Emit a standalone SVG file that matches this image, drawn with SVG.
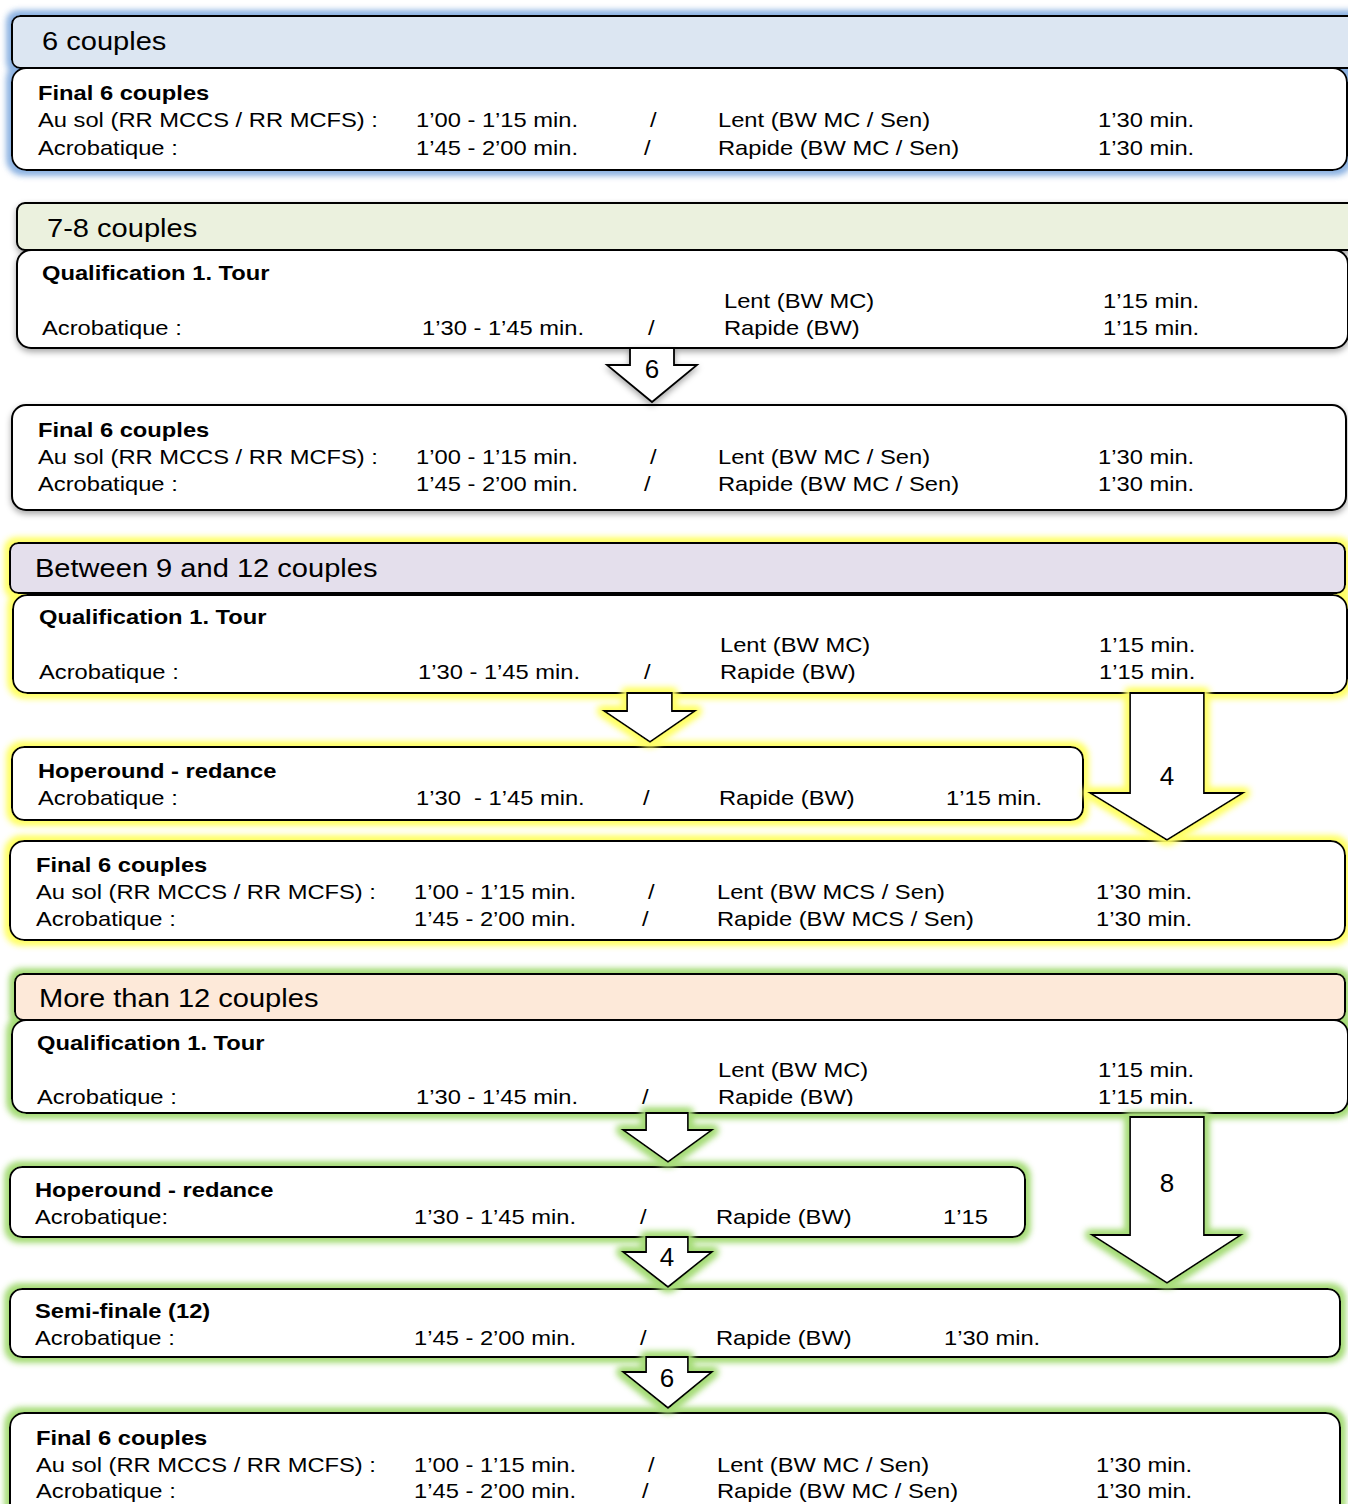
<svg xmlns="http://www.w3.org/2000/svg" width="1348" height="1504" viewBox="0 0 1348 1504">
<style>
text { font-family: "Liberation Sans", Arial, sans-serif; fill: #000; }
.t { font-size: 21px; transform-box: fill-box; transform-origin: 0 0; transform: scaleX(1.13); }
.b { font-weight: bold; }
.h { font-size: 25.5px; transform-box: fill-box; transform-origin: 0 0; transform: scaleX(1.14); }
.n { font-size: 26px; text-anchor: middle; }
.bx { fill: #fff; stroke: #000; stroke-width: 2; }
.ar { fill: #fff; stroke: #000; stroke-width: 1.8; stroke-linejoin: miter; }
.hd { stroke: #000; stroke-width: 2; }
</style>
<defs>
<filter id="gBlue" x="-10%" y="-40%" width="120%" height="180%">
<feMorphology in="SourceAlpha" operator="dilate" radius="3" result="d"/>
<feGaussianBlur in="d" stdDeviation="3.5" result="bl"/>
<feFlood flood-color="#8db3e2"/>
<feComposite in2="bl" operator="in" result="g"/>
<feMerge><feMergeNode in="g"/><feMergeNode in="g"/><feMergeNode in="SourceGraphic"/></feMerge>
</filter>
<filter id="gYel" x="-10%" y="-40%" width="120%" height="180%">
<feMorphology in="SourceAlpha" operator="dilate" radius="3" result="d"/>
<feGaussianBlur in="d" stdDeviation="3.5" result="bl"/>
<feFlood flood-color="#ffff66"/>
<feComposite in2="bl" operator="in" result="g"/>
<feMerge><feMergeNode in="g"/><feMergeNode in="g"/><feMergeNode in="SourceGraphic"/></feMerge>
</filter>
<filter id="gGrn" x="-10%" y="-40%" width="120%" height="180%">
<feMorphology in="SourceAlpha" operator="dilate" radius="3" result="d"/>
<feGaussianBlur in="d" stdDeviation="3.5" result="bl"/>
<feFlood flood-color="#a6dc78"/>
<feComposite in2="bl" operator="in" result="g"/>
<feMerge><feMergeNode in="g"/><feMergeNode in="g"/><feMergeNode in="SourceGraphic"/></feMerge>
</filter>
<filter id="sh" x="-10%" y="-40%" width="120%" height="180%">
<feGaussianBlur in="SourceAlpha" stdDeviation="3" result="bl"/>
<feOffset in="bl" dx="0" dy="3" result="o"/>
<feFlood flood-color="#000" flood-opacity="0.35"/>
<feComposite in2="o" operator="in" result="g"/>
<feMerge><feMergeNode in="g"/><feMergeNode in="SourceGraphic"/></feMerge>
</filter>
<clipPath id="clipQ4"><rect x="0" y="1020" width="1348" height="86"/></clipPath>
</defs>

<!-- Group 1: 6 couples -->
<g id="g1-shapes" filter="url(#gBlue)">
<rect class="hd" x="12" y="16" width="1350" height="52" rx="8" fill="#dce6f2"/>
<rect class="bx" x="12" y="68" width="1335" height="102" rx="14"/>
</g>
<g id="g1-header"><text class="h" x="42" y="50">6 couples</text></g>
<g id="g1-final">
<text class="t b" x="38" y="100">Final 6 couples</text>
<text class="t" x="38" y="127">Au sol (RR MCCS / RR MCFS) :</text>
<text class="t" x="416" y="127">1’00 - 1’15 min.</text>
<text class="t" x="650" y="127">/</text>
<text class="t" x="718" y="127">Lent (BW MC / Sen)</text>
<text class="t" x="1098" y="127">1’30 min.</text>
<text class="t" x="38" y="155">Acrobatique :</text>
<text class="t" x="416" y="155">1’45 - 2’00 min.</text>
<text class="t" x="644" y="155">/</text>
<text class="t" x="718" y="155">Rapide (BW MC / Sen)</text>
<text class="t" x="1098" y="155">1’30 min.</text>
</g>

<!-- Group 2: 7-8 couples -->
<g id="g2-shapes" filter="url(#sh)">
<rect class="hd" x="17" y="203" width="1345" height="47" rx="8" fill="#ebf1de"/>
<rect class="bx" x="17" y="250" width="1331" height="98" rx="14"/>
<rect class="bx" x="12" y="405" width="1334" height="105" rx="14"/>
</g>
<g id="g2-header"><text class="h" x="47" y="237">7-8 couples</text></g>
<g id="g2-qual">
<text class="t b" x="42" y="280">Qualification 1. Tour</text>
<text class="t" x="724" y="308">Lent (BW MC)</text>
<text class="t" x="1103" y="308">1’15 min.</text>
<text class="t" x="42" y="335">Acrobatique :</text>
<text class="t" x="422" y="335">1’30 - 1’45 min.</text>
<text class="t" x="648" y="335">/</text>
<text class="t" x="724" y="335">Rapide (BW)</text>
<text class="t" x="1103" y="335">1’15 min.</text>
</g>
<g id="g2-final">
<text class="t b" x="38" y="437">Final 6 couples</text>
<text class="t" x="38" y="464">Au sol (RR MCCS / RR MCFS) :</text>
<text class="t" x="416" y="464">1’00 - 1’15 min.</text>
<text class="t" x="650" y="464">/</text>
<text class="t" x="718" y="464">Lent (BW MC / Sen)</text>
<text class="t" x="1098" y="464">1’30 min.</text>
<text class="t" x="38" y="491">Acrobatique :</text>
<text class="t" x="416" y="491">1’45 - 2’00 min.</text>
<text class="t" x="644" y="491">/</text>
<text class="t" x="718" y="491">Rapide (BW MC / Sen)</text>
<text class="t" x="1098" y="491">1’30 min.</text>
</g>

<!-- Group 3: Between 9 and 12 couples -->
<g id="g3-shapes" filter="url(#gYel)">
<rect class="hd" x="10" y="543" width="1335" height="50" rx="8" fill="#e4dfec"/>
<rect class="bx" x="13" y="595" width="1334" height="98" rx="14"/>
<rect class="bx" x="12" y="747" width="1071" height="73" rx="12"/>
<rect class="bx" x="10" y="841" width="1335" height="99" rx="14"/>
</g>
<g id="g3-header"><text class="h" x="35" y="577">Between 9 and 12 couples</text></g>
<g id="g3-qual">
<text class="t b" x="39" y="624">Qualification 1. Tour</text>
<text class="t" x="720" y="652">Lent (BW MC)</text>
<text class="t" x="1099" y="652">1’15 min.</text>
<text class="t" x="39" y="679">Acrobatique :</text>
<text class="t" x="418" y="679">1’30 - 1’45 min.</text>
<text class="t" x="644" y="679">/</text>
<text class="t" x="720" y="679">Rapide (BW)</text>
<text class="t" x="1099" y="679">1’15 min.</text>
</g>
<g id="g3-hope">
<text class="t b" x="38" y="778">Hoperound - redance</text>
<text class="t" x="38" y="805">Acrobatique :</text>
<text class="t" x="416" y="805" xml:space="preserve">1’30  - 1’45 min.</text>
<text class="t" x="643" y="805">/</text>
<text class="t" x="719" y="805">Rapide (BW)</text>
<text class="t" x="946" y="805">1’15 min.</text>
</g>
<g id="g3-final">
<text class="t b" x="36" y="872">Final 6 couples</text>
<text class="t" x="36" y="899">Au sol (RR MCCS / RR MCFS) :</text>
<text class="t" x="414" y="899">1’00 - 1’15 min.</text>
<text class="t" x="648" y="899">/</text>
<text class="t" x="717" y="899">Lent (BW MCS / Sen)</text>
<text class="t" x="1096" y="899">1’30 min.</text>
<text class="t" x="36" y="926">Acrobatique :</text>
<text class="t" x="414" y="926">1’45 - 2’00 min.</text>
<text class="t" x="642" y="926">/</text>
<text class="t" x="717" y="926">Rapide (BW MCS / Sen)</text>
<text class="t" x="1096" y="926">1’30 min.</text>
</g>

<!-- Group 4: More than 12 couples -->
<g id="g4-shapes" filter="url(#gGrn)">
<rect class="hd" x="15" y="974" width="1330" height="46" rx="8" fill="#fde9d9"/>
<rect class="bx" x="12" y="1020" width="1336" height="93" rx="14"/>
<rect class="bx" x="10" y="1167" width="1015" height="70" rx="12"/>
<rect class="bx" x="10" y="1289" width="1330" height="68" rx="12"/>
<rect class="bx" x="10" y="1413" width="1330" height="110" rx="14"/>
</g>
<g id="g4-header"><text class="h" x="39" y="1007">More than 12 couples</text></g>
<g id="g4-qual">
<text class="t b" x="37" y="1050">Qualification 1. Tour</text>
<text class="t" x="718" y="1077">Lent (BW MC)</text>
<text class="t" x="1098" y="1077">1’15 min.</text>
<g clip-path="url(#clipQ4)">
<text class="t" x="37" y="1104">Acrobatique :</text>
<text class="t" x="416" y="1104">1’30 - 1’45 min.</text>
<text class="t" x="642" y="1104">/</text>
<text class="t" x="718" y="1104">Rapide (BW)</text>
<text class="t" x="1098" y="1104">1’15 min.</text>
</g>
</g>
<g id="g4-hope">
<text class="t b" x="35" y="1197">Hoperound - redance</text>
<text class="t" x="35" y="1224">Acrobatique:</text>
<text class="t" x="414" y="1224">1’30 - 1’45 min.</text>
<text class="t" x="640" y="1224">/</text>
<text class="t" x="716" y="1224">Rapide (BW)</text>
<text class="t" x="943" y="1224">1’15</text>
</g>
<g id="g4-semi">
<text class="t b" x="35" y="1318">Semi-finale (12)</text>
<text class="t" x="35" y="1345">Acrobatique :</text>
<text class="t" x="414" y="1345">1’45 - 2’00 min.</text>
<text class="t" x="640" y="1345">/</text>
<text class="t" x="716" y="1345">Rapide (BW)</text>
<text class="t" x="944" y="1345">1’30 min.</text>
</g>
<g id="g4-final">
<text class="t b" x="36" y="1445">Final 6 couples</text>
<text class="t" x="36" y="1472">Au sol (RR MCCS / RR MCFS) :</text>
<text class="t" x="414" y="1472">1’00 - 1’15 min.</text>
<text class="t" x="648" y="1472">/</text>
<text class="t" x="717" y="1472">Lent (BW MC / Sen)</text>
<text class="t" x="1096" y="1472">1’30 min.</text>
<text class="t" x="36" y="1498">Acrobatique :</text>
<text class="t" x="414" y="1498">1’45 - 2’00 min.</text>
<text class="t" x="642" y="1498">/</text>
<text class="t" x="717" y="1498">Rapide (BW MC / Sen)</text>
<text class="t" x="1096" y="1498">1’30 min.</text>
</g>

<!-- Connectors -->
<g id="connectors">
<g filter="url(#sh)">
<path class="ar" d="M630,348 L630,365 L607,365 L652,402 L697,365 L674,365 L674,348 Z"/>
</g>
<text class="n" x="652" y="378">6</text>
<g filter="url(#gYel)">
<path class="ar" d="M627,693 L627,711 L604,711 L650,742 L695,711 L672,711 L672,693 Z"/>
<path class="ar" d="M1130,693 L1130,793 L1090,793 L1167,840 L1243,793 L1204,793 L1204,693 Z"/>
</g>
<text class="n" x="1167" y="785">4</text>
<g filter="url(#gGrn)">
<path class="ar" d="M646,1113 L646,1130 L623,1130 L668,1162 L712,1130 L688,1130 L688,1113 Z"/>
<path class="ar" d="M1130,1117 L1130,1235 L1092,1235 L1167,1283 L1241,1235 L1204,1235 L1204,1117 Z"/>
<path class="ar" d="M646,1237 L646,1252 L623,1252 L668,1287 L712,1252 L688,1252 L688,1237 Z"/>
<path class="ar" d="M646,1357 L646,1372 L623,1372 L668,1408 L712,1372 L688,1372 L688,1357 Z"/>
</g>
<text class="n" x="1167" y="1192">8</text>
<text class="n" x="667" y="1266">4</text>
<text class="n" x="667" y="1387">6</text>
</g>
</svg>
